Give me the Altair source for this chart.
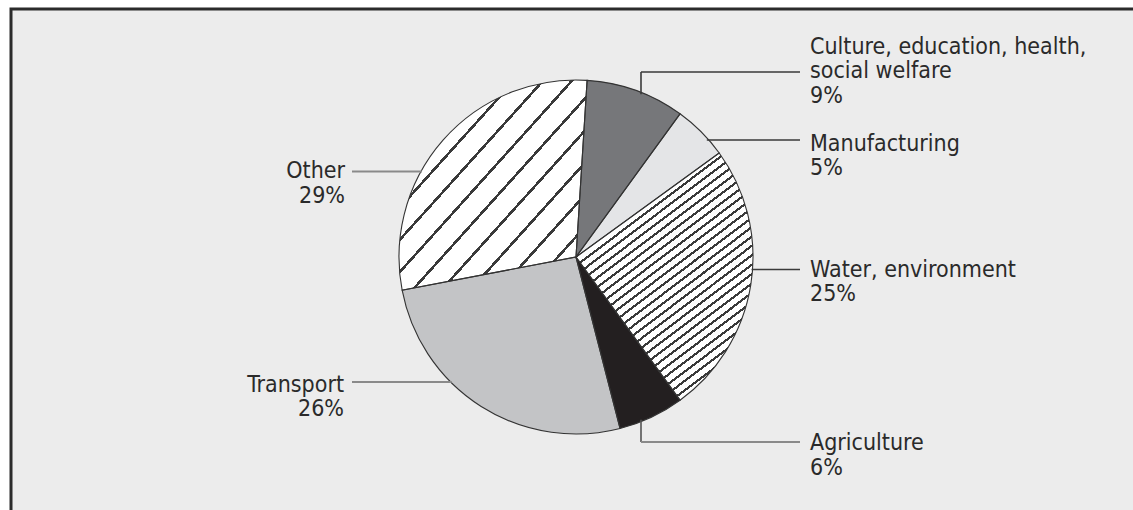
import math
import altair as alt
import pandas as pd

# ---------------- data ----------------
categories = ["Culture", "Manufacturing", "Water", "Agriculture", "Transport", "Other"]
label_text = ["Culture, education, health,\nsocial welfare", "Manufacturing",
              "Water, environment", "Agriculture", "Transport", "Other"]
shares = [9, 5, 25, 6, 26, 29]

# ---------------- styles / layout ----------------
fills = ["#76777a", "#e4e5e7", "#ffffff", "#231f20", "#c3c4c6", "#ffffff"]
W, H = 1133, 510
CX, CY, R = 576, 257, 177
START_DEG = 3.6
FONT = "DejaVu Sans Condensed, Roboto, Liberation Sans, sans-serif"
TEXT_COLOR = "#2a2a2a"
BG = "#ececec"

# label anchors (x, first baseline, side)
label_pos = {
    "Culture": (810, 53.5, "left"),
    "Manufacturing": (810, 150.5, "left"),
    "Water": (810, 276.5, "left"),
    "Agriculture": (810, 450, "left"),
    "Transport": (344, 391.5, "right"),
    "Other": (345, 178, "right"),
}

df = pd.DataFrame({"category": categories, "share": shares, "order": list(range(len(categories)))})

theta_scale = alt.Scale(domain=[0, 100],
                        range=[math.radians(START_DEG), math.radians(START_DEG) + 2 * math.pi])


def slice_angles(name):
    i = categories.index(name)
    a0 = sum(shares[:i]) / 100 * 360 + START_DEG
    a1 = a0 + shares[i] / 100 * 360
    return a0, a1


def arc_bbox(name):
    a0, a1 = slice_angles(name)
    xs, ys = [CX], [CY]
    n = 400
    for k in range(n + 1):
        a = math.radians(a0 + (a1 - a0) * k / n)
        xs.append(CX + R * math.sin(a))
        ys.append(CY - R * math.cos(a))
    return max(xs) - min(xs), max(ys) - min(ys)


def hatch(name, angle_deg, spacing, line_w, line_color, bg="#ffffff"):
    bw, bh = arc_bbox(name)
    s = math.tan(math.radians(angle_deg))
    vx, vy = s / bh, 1 / bw
    t = (vx + vy) / (vx * vx + vy * vy)
    D = (s * bw + bh) / math.sqrt(1 + s * s)
    half = line_w / 2 / D
    stops = []
    k = 0
    while True:
        c = k * spacing / D
        a, b = max(0.0, c - half), min(1.0, c + half)
        if a >= 1:
            break
        stops += [{"offset": round(a, 5), "color": bg}, {"offset": round(a, 5), "color": line_color},
                  {"offset": round(b, 5), "color": line_color}, {"offset": round(b, 5), "color": bg}]
        k += 1
    stops.append({"offset": 1, "color": bg})
    return {"gradient": "linear", "x1": 0, "y1": 0, "x2": round(t * vx, 5), "y2": round(t * vy, 5),
            "stops": stops}


base = alt.Chart(df).transform_window(
    end="sum(share)", sort=[alt.SortField("order")]
).transform_calculate(start="datum.end - datum.share")

arc_enc = dict(
    theta=alt.Theta("start:Q", scale=theta_scale),
    theta2=alt.Theta2("end:Q"),
    x=alt.value(CX),
    y=alt.value(CY),
)

solid = base.mark_arc(radius=R, strokeWidth=0).encode(
    fill=alt.Fill("category:N", scale=alt.Scale(domain=categories, range=fills), legend=None),
    **arc_enc,
)
water = base.transform_filter("datum.category == 'Water'").mark_arc(
    radius=R, strokeWidth=0, fill=hatch("Water", 37, 7.5, 2.2, "#3a3a3a")
).encode(**arc_enc)
other = base.transform_filter("datum.category == 'Other'").mark_arc(
    radius=R, strokeWidth=0, fill=hatch("Other", 48, 21.5, 2.6, "#3a3a3a")
).encode(**arc_enc)
outline = base.mark_arc(radius=R, fillOpacity=0, fill="#ffffff", stroke="#333333", strokeWidth=1.1).encode(**arc_enc)

# frame
frame = alt.Chart(alt.Data(values=[{}])).mark_rect(
    fill=BG, stroke="#2b2b2b", strokeWidth=3
).encode(x=alt.value(11), x2=alt.value(W + 30), y=alt.value(9), y2=alt.value(H + 30))


# leader lines
def edge_x(y, side):
    return CX + side * math.sqrt(R * R - (y - CY) ** 2)


def edge_y(x, side):
    return CY + side * math.sqrt(R * R - (x - CX) ** 2)


dark, light = "#3a3a3a", "#8a8a8a"
segs = [
    (641, 641, 72, edge_y(641, -1) + 2, dark, 1.6),
    (641, 800, 72, 72, dark, 1.6),
    (edge_x(140, 1) - 2, 800, 140, 140, dark, 1.6),
    (edge_x(269.5, 1) - 1, 800, 269.5, 269.5, dark, 1.6),
    (641, 641, edge_y(641, 1) - 2, 442, "#555555", 1.6),
    (641, 800, 442, 442, light, 2),
    (352, edge_x(171.5, -1) + 1, 171.5, 171.5, light, 2),
    (352, edge_x(382, -1) + 1, 382, 382, light, 2),
]
seg_df = pd.DataFrame(segs, columns=["x", "x2", "y", "y2", "c", "w"])
leaders = alt.Chart(seg_df).mark_rule().encode(
    x=alt.X("x:Q", scale=None), x2="x2:Q",
    y=alt.Y("y:Q", scale=None), y2="y2:Q",
    stroke=alt.Stroke("c:N", scale=None),
    strokeWidth=alt.StrokeWidth("w:Q", scale=None),
)

# labels
lab_df = pd.DataFrame({
    "category": categories,
    "txt": [f"{t}\n{s}%" for t, s in zip(label_text, shares)],
    "lx": [label_pos[c][0] for c in categories],
    "ly": [label_pos[c][1] for c in categories],
    "side": [label_pos[c][2] for c in categories],
})


def text_layer(side):
    return alt.Chart(lab_df).transform_filter(f"datum.side == '{side}'").mark_text(
        align=side, baseline="alphabetic", font=FONT, fontSize=23, lineHeight=24.5,
        lineBreak="\n", color=TEXT_COLOR
    ).encode(x=alt.X("lx:Q", scale=None), y=alt.Y("ly:Q", scale=None), text="txt:N")


chart = alt.layer(
    frame, solid, water, other, outline, leaders, text_layer("left"), text_layer("right")
).properties(
    width=W, height=H, autosize=alt.AutoSizeParams(type="none"), padding=0, background="#ffffff"
).configure_view(strokeWidth=0)

chart.save("out.html", embed_options={"renderer": "svg", "actions": False})
